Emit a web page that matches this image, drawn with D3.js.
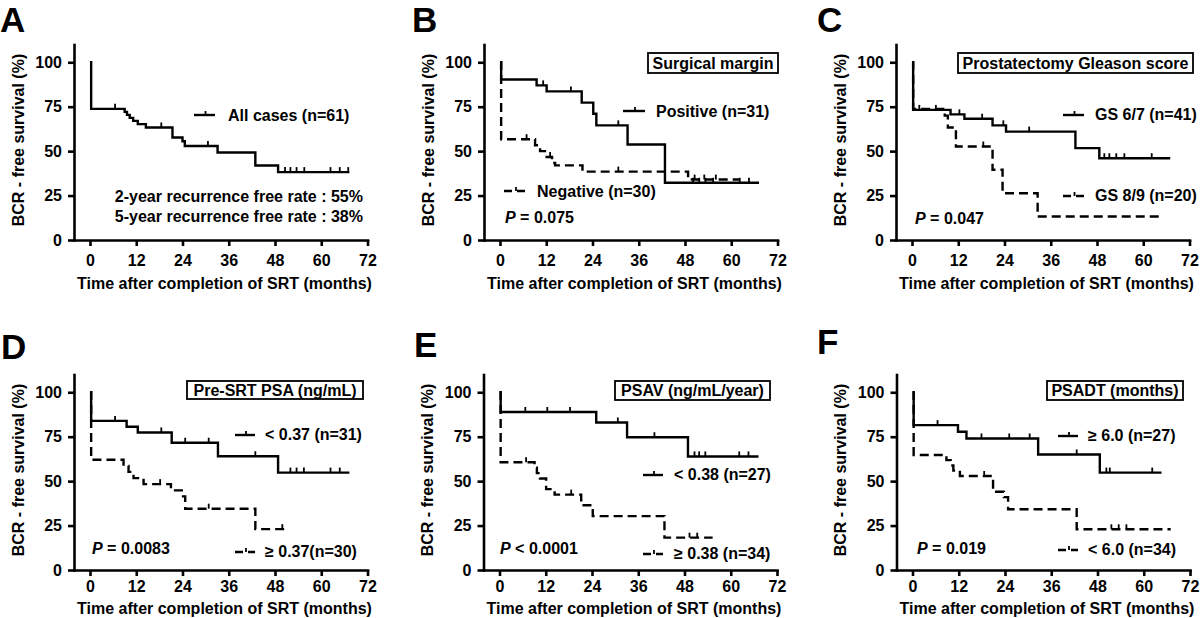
<!DOCTYPE html>
<html><head><meta charset="utf-8">
<script src="https://cdn.jsdelivr.net/npm/d3@7"></script>
<style>
body{margin:0;background:#fff}
text{font-family:"Liberation Sans",Arial,Helvetica,sans-serif;font-weight:bold;fill:#000}
</style>
</head><body>
<svg id="chart" width="1200" height="618"></svg>
<script>
// ---------- data ----------
const xTickLabels = [0, 12, 24, 36, 48, 60, 72];
const yTickLabels = [0, 25, 50, 75, 100];
const xTitle = "Time after completion of SRT (months)";
const yTitle = "BCR - free survival (%)";

// A: all cases
const aAllTime = [0, 0.3, 9, 9.6, 10.3, 11.2, 12.4, 14.5, 21.4, 24, 24.6, 33.1, 42.9, 48.8];
const aAllSurv = [100, 73.8, 72.1, 70.4, 68.7, 67, 65.2, 63.3, 57.7, 55.6, 52.9, 49.2, 41.9, 38.2];
const aAllEnd = 67.3;
const aAllCensor = [6.5, 18.5, 30.6, 50.6, 52, 53.6, 55.6, 62.4, 64.8, 67];

// B: surgical margin
const bPosTime = [0, 0.3, 9.5, 12.1, 21.2, 24.2, 25, 33.1, 42.8];
const bPosSurv = [100, 90.3, 87, 83.6, 77.3, 71, 64.5, 53.7, 32.2];
const bPosEnd = 67.2;
const bPosCensor = [11.2, 18.4, 30.7, 50.1, 51.7, 53.3, 55.3, 62.2, 64.6];
const bNegTime = [0, 0.3, 9.1, 10.4, 12.1, 13.5, 14.3, 21.4, 48.8];
const bNegSurv = [100, 56.7, 53.3, 50, 46.7, 43.3, 42, 38.5, 34];
const bNegEnd = 62;
const bNegCensor = [6.9, 13, 30.7, 50.5, 53, 56];

// C: Gleason score
const cLowTime = [0, 0.3, 10, 13.6, 20.9, 24.4, 42.4, 48.6];
const cLowSurv = [100, 73.2, 70.7, 68.2, 64.5, 61, 51.7, 46];
const cLowEnd = 67;
const cLowCensor = [1.9, 6.2, 12.3, 18.2, 23.7, 30.4, 49.9, 51.2, 53, 55.1, 62.2];
const cHighTime = [0, 0.3, 8.5, 9.3, 11.4, 20.9, 23.5, 32.6];
const cHighSurv = [100, 73.7, 70, 63.3, 52.6, 39.5, 26.3, 13.2];
const cHighEnd = 64.6;
const cHighCensor = [18.5];

// D: pre-SRT PSA
const dLowTime = [0, 0.3, 9.5, 12.4, 21.2, 33.2, 48.8];
const dLowSurv = [100, 83.9, 80.6, 77.4, 71.6, 64, 54.8];
const dLowEnd = 67.3;
const dLowCensor = [6.5, 18.5, 24.7, 30.8, 42.9, 52, 53.6, 55.5, 62.4, 64.8];
const dHighTime = [0, 0.3, 8.7, 10, 11.3, 13.9, 21, 23.8, 24.7, 42.9];
const dHighSurv = [100, 62, 58.6, 55.2, 51.7, 48.3, 44.8, 41.4, 34.5, 23];
const dHighEnd = 51.6;
const dHighCensor = [18.2, 30.8, 49.9];

// E: PSAV
const eLowTime = [0, 0.3, 25.1, 33.1, 48.9];
const eLowSurv = [100, 88.9, 83, 74.7, 63.9];
const eLowEnd = 67.2;
const eLowCensor = [6.7, 12.4, 18.3, 30.7, 40.2, 50.6, 51.8, 53.4, 62.2, 64.6];
const eHighTime = [0, 0.3, 9.1, 9.7, 10.5, 12.1, 14.3, 21.2, 24.2, 42.8];
const eHighSurv = [100, 60.6, 57.6, 54.5, 51.5, 45.5, 42.4, 36.4, 30.3, 18.2];
const eHighEnd = 55.3;
const eHighCensor = [6.9, 18.6, 49.3, 51.3];

// F: PSADT
const fLongTime = [0, 0.3, 11.8, 14, 32.6, 48.6];
const fLongSurv = [100, 81.5, 77.8, 74, 65, 54.8];
const fLongEnd = 64.6;
const fLongCensor = [6.5, 17.9, 25.1, 30.4, 42.6, 50.3, 51.2, 62.2];
const fShortTime = [0, 0.3, 8.8, 9.9, 10.6, 12.3, 20.9, 23.7, 24.8, 42.6];
const fShortSurv = [100, 64.7, 61.8, 58.8, 55.9, 52.9, 44, 41, 34.2, 22.9];
const fShortEnd = 67;
const fShortCensor = [18.6, 51.6, 53.5, 55.5];

// ---------- layout / drawing ----------
const svg = d3.select("#chart");
const S = (time, surv, end, censor, dashed) => ({time, surv, end, censor, dashed});
const FS = "16px";

const panels = [
  {label:"A", lx:0, ly:32, ax:74, y0:240, xlab:26, xtit:49,
   series:[S(aAllTime,aAllSurv,aAllEnd,aAllCensor,false)],
   legend:[{x1:194,x2:215,y:115,tx:228,ty:121,text:"All cases (n=61)",dashed:false}],
   notes:[{x:363,y:202,text:"2-year recurrence free rate : 55%"},{x:363,y:222,text:"5-year recurrence free rate : 38%"}]},
  {label:"B", lx:412, ly:32, ax:484, y0:240, xlab:26, xtit:49,
   series:[S(bPosTime,bPosSurv,bPosEnd,bPosCensor,false), S(bNegTime,bNegSurv,bNegEnd,bNegCensor,true)],
   box:{x:648,y:53,w:130,h:20,text:"Surgical margin"},
   legend:[{x1:623,x2:645,y:111,tx:656,ty:117,text:"Positive (n=31)",dashed:false},
           {x1:504,x2:526,y:191,tx:537,ty:197,text:"Negative (n=30)",dashed:true}],
   p:{x:505,y:223,op:" = ",val:"0.075"}},
  {label:"C", lx:817, ly:32, ax:896, y0:240, xlab:26, xtit:49,
   series:[S(cLowTime,cLowSurv,cLowEnd,cLowCensor,false), S(cHighTime,cHighSurv,cHighEnd,cHighCensor,true)],
   box:{x:958,y:53,w:235,h:20,text:"Prostatectomy Gleason score"},
   legend:[{x1:1063,x2:1084,y:115,tx:1095,ty:120,text:"GS 6/7 (n=41)",dashed:false},
           {x1:1063,x2:1084,y:196,tx:1095,ty:201,text:"GS 8/9 (n=20)",dashed:true}],
   p:{x:915,y:224,op:" = ",val:"0.047"}},
  {label:"D", lx:1, ly:359, ax:74, y0:570, xlab:22, xtit:44,
   series:[S(dLowTime,dLowSurv,dLowEnd,dLowCensor,false), S(dHighTime,dHighSurv,dHighEnd,dHighCensor,true)],
   box:{x:187,y:381,w:176,h:18,text:"Pre-SRT PSA (ng/mL)"},
   legend:[{x1:235,x2:255,y:435,tx:265,ty:440,text:"< 0.37 (n=31)",dashed:false},
           {x1:235,x2:255,y:552,tx:265,ty:557,text:"\u2265 0.37(n=30)",dashed:true}],
   p:{x:92,y:554,op:" = ",val:"0.0083"}},
  {label:"E", lx:414, ly:357, ax:483.5, y0:570, xlab:22, xtit:44,
   series:[S(eLowTime,eLowSurv,eLowEnd,eLowCensor,false), S(eHighTime,eHighSurv,eHighEnd,eHighCensor,true)],
   box:{x:615,y:381,w:155,h:19,text:"PSAV (ng/mL/year)"},
   legend:[{x1:643,x2:663,y:475,tx:674,ty:480,text:"< 0.38 (n=27)",dashed:false},
           {x1:643,x2:663,y:554,tx:674,ty:559,text:"\u2265 0.38 (n=34)",dashed:true}],
   p:{x:500,y:554,op:" < ",val:"0.0001"}},
  {label:"F", lx:817, ly:354, ax:896.5, y0:570, xlab:22, xtit:44,
   series:[S(fLongTime,fLongSurv,fLongEnd,fLongCensor,false), S(fShortTime,fShortSurv,fShortEnd,fShortCensor,true)],
   box:{x:1047,y:381,w:136,h:19,text:"PSADT (months)"},
   legend:[{x1:1058,x2:1078,y:436,tx:1088,ty:441,text:"\u2265 6.0 (n=27)",dashed:false},
           {x1:1058,x2:1078,y:550,tx:1088,ty:555,text:"< 6.0 (n=34)",dashed:true}],
   p:{x:917,y:554,op:" = ",val:"0.019"}}
];

const DASH = "9,5";

function survAt(sr, t){
  let s = sr.surv[0];
  for (let i=0;i<sr.time.length;i++){ if (sr.time[i] <= t) s = sr.surv[i]; }
  return s;
}

panels.forEach(p => {
  const g = svg.append("g");
  const x = d3.scaleLinear().domain([-4.15, 72]).range([p.ax, p.ax + 293.5]);
  const y = d3.scaleLinear().domain([0, 110]).range([p.y0, p.y0 - 195.5]);

  // panel letter
  g.append("text").attr("x", p.lx).attr("y", p.ly).style("font-size","35px").text(p.label);

  // axes
  const xa = g.append("g").attr("transform", `translate(0,${p.y0})`)
    .call(d3.axisBottom(x).tickValues(xTickLabels).tickSize(6).tickSizeOuter(0));
  const ya = g.append("g").attr("transform", `translate(${p.ax},0)`)
    .call(d3.axisLeft(y).tickValues(yTickLabels).tickSize(6).tickSizeOuter(0).tickPadding(6));
  [xa, ya].forEach(a => {
    a.attr("font-size", null).attr("font-family", null);
    a.selectAll("path,line").attr("stroke","#000").attr("stroke-width",2.6);
    a.selectAll("text").style("font-size",FS).attr("fill","#000");
  });
  xa.selectAll("text").attr("y", p.xlab).attr("dy", null);
  xa.select(".domain").attr("stroke-linecap","square");
  ya.select(".domain").attr("stroke-linecap","square");

  // titles
  g.append("text").attr("x", p.ax + 150.5).attr("y", p.y0 + p.xtit).attr("text-anchor","middle")
    .style("font-size",FS).text(xTitle);
  g.append("text").attr("transform", `translate(${p.ax - 50.5},${p.y0 - 100}) rotate(-90)`)
    .attr("text-anchor","middle").style("font-size",FS).text(yTitle);

  // curves
  const line = d3.line().x(d => x(d[0])).y(d => y(d[1])).curve(d3.curveStepAfter);
  p.series.forEach(sr => {
    const pts = sr.time.map((t,i) => [t, sr.surv[i]]);
    pts.push([sr.end, sr.surv[sr.surv.length-1]]);
    g.append("path").attr("d", line(pts)).attr("fill","none").attr("stroke","#000")
      .attr("stroke-width", 2.4).attr("stroke-dasharray", sr.dashed ? DASH : null);
    g.selectAll(null).data(sr.censor).enter().append("line")
      .attr("x1", d => x(d)).attr("x2", d => x(d))
      .attr("y1", d => y(survAt(sr, d)) - 5).attr("y2", d => y(survAt(sr, d)))
      .attr("stroke","#000").attr("stroke-width",1.8);
  });

  // legend
  p.legend.forEach(l => {
    g.append("line").attr("x1", l.x1).attr("x2", l.x2).attr("y1", l.y).attr("y2", l.y)
      .attr("stroke","#000").attr("stroke-width",2.4).attr("stroke-dasharray", l.dashed ? "8,5" : null);
    const mx = (l.x1 + l.x2)/2 + 1;
    g.append("line").attr("x1", mx).attr("x2", mx).attr("y1", l.y - 4).attr("y2", l.y)
      .attr("stroke","#000").attr("stroke-width",1.8);
    g.append("text").attr("x", l.tx).attr("y", l.ty).style("font-size",FS).text(l.text);
  });

  if (p.box) {
    g.append("rect").attr("x", p.box.x).attr("y", p.box.y).attr("width", p.box.w).attr("height", p.box.h)
      .attr("fill","#fff").attr("stroke","#000").attr("stroke-width",1.8);
    g.append("text").attr("x", p.box.x + p.box.w/2).attr("y", p.box.y + p.box.h/2 + 5.8)
      .attr("text-anchor","middle").style("font-size",FS).text(p.box.text);
  }
  if (p.notes) p.notes.forEach(n => {
    g.append("text").attr("x", n.x).attr("y", n.y).attr("text-anchor","end").style("font-size",FS).text(n.text);
  });
  if (p.p) {
    const t = g.append("text").attr("x", p.p.x).attr("y", p.p.y).style("font-size",FS);
    t.append("tspan").style("font-style","italic").text("P");
    t.append("tspan").text(p.p.op + p.p.val);
  }
});
</script>
</body></html>
